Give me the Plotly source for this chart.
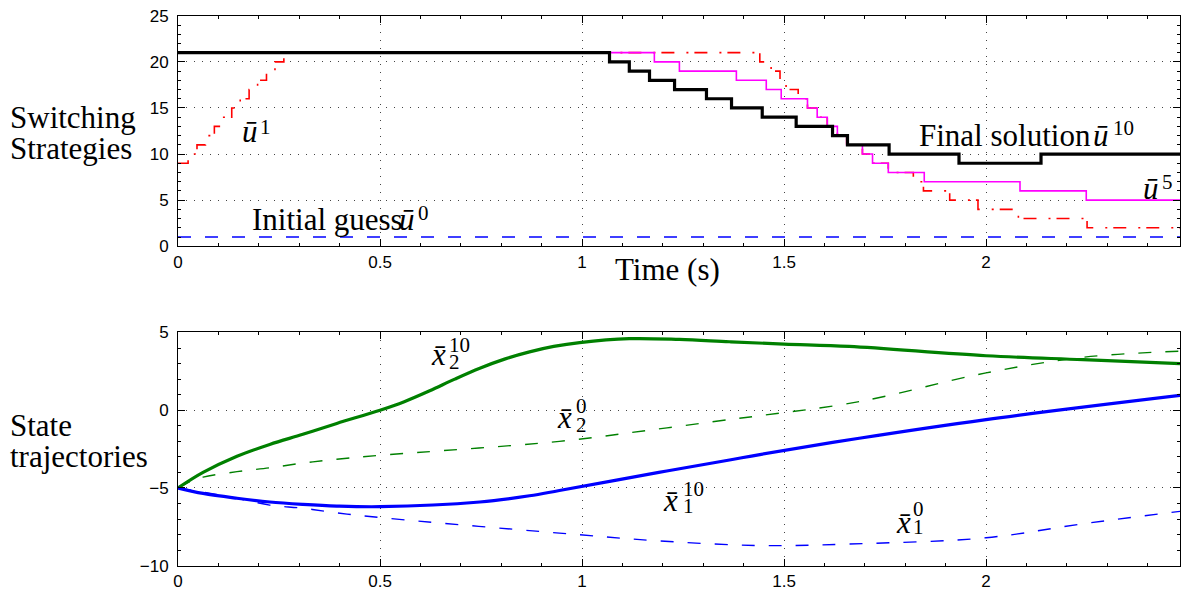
import plotly.graph_objects as go

# ---------------- data ----------------
# Top panel: switching strategies (piecewise constant, step after)
u0_t = [0, 2.48]
u0_v = [1, 1]

u1_t = [0, 0.025, 0.047, 0.068, 0.090, 0.111, 0.133, 0.154, 0.176, 0.197, 0.219, 0.240, 0.262,
        1.440, 1.468, 1.490, 1.505, 1.535, 1.558, 1.582, 1.607, 1.632, 1.655, 1.694, 1.719, 1.758,
        1.820, 1.845, 1.910, 1.980, 2.080, 2.250, 2.48]
u1_v = [9, 10, 11, 12, 13, 14, 15, 16, 17, 18, 19, 20, 21,
        20, 19, 18, 17, 16, 15, 14, 13, 12, 11, 10, 9, 8,
        7, 6, 5, 4, 3, 2, 2]

u5_t = [0, 1.179, 1.241, 1.382, 1.456, 1.493, 1.558, 1.582, 1.607, 1.632, 1.655, 1.694, 1.719,
        1.758, 1.847, 2.084, 2.248, 2.48]
u5_v = [21, 20, 19, 18, 17, 16, 15, 14, 13, 12, 11, 10, 9, 8, 7, 6, 5, 5]

u10_t = [0, 1.068, 1.117, 1.167, 1.229, 1.308, 1.370, 1.446, 1.530, 1.620, 1.657, 1.760, 1.933,
         2.136, 2.48]
u10_v = [21, 20, 19, 18, 17, 16, 15, 14, 13, 12, 11, 10, 9, 10, 10]

# Bottom panel: state trajectories
x2_10_t = [0, 0.062, 0.146, 0.227, 0.309, 0.393, 0.5, 0.56, 0.623, 0.685, 0.747, 0.81, 0.870,
           0.93, 0.994, 1.117, 1.241, 1.365, 1.5, 1.661, 2.0, 2.24, 2.48]
x2_10_v = [-5, -4.0, -2.96, -2.2, -1.55, -0.85, 0.0, 0.55, 1.25, 2.0, 2.7, 3.3, 3.75,
           4.1, 4.35, 4.6, 4.55, 4.4, 4.25, 4.1, 3.5, 3.25, 3.0]

x2_0_t = [0, 0.03, 0.062, 0.146, 0.227, 0.309, 0.393, 0.5, 0.944, 1.19, 1.365, 1.44, 1.686,
          2.0, 2.24, 2.48]
x2_0_v = [-5, -4.6, -4.3, -3.95, -3.7, -3.4, -3.15, -2.9, -2.0, -1.2, -0.6, -0.35, 0.55,
          2.4, 3.4, 3.8]

x1_10_t = [0, 0.062, 0.146, 0.227, 0.309, 0.393, 0.5, 0.747, 0.870, 0.944, 1.19, 1.365, 1.44,
           1.686, 2.0, 2.48]
x1_10_v = [-5, -5.35, -5.66, -5.9, -6.05, -6.16, -6.2, -5.9, -5.5, -5.16, -4.0, -3.2, -2.85,
           -1.8, -0.6, 0.95]

x1_0_t = [0, 0.146, 0.227, 0.309, 0.393, 0.5, 0.944, 1.19, 1.44, 1.661, 2.0, 2.24, 2.48]
x1_0_v = [-5, -5.66, -6.1, -6.3, -6.6, -6.9, -7.9, -8.4, -8.7, -8.6, -8.2, -7.3, -6.5]

xticks = [0, 0.5, 1, 1.5, 2]
xtick_labels = ["0", "0.5", "1", "1.5", "2"]
top_yticks = [0, 5, 10, 15, 20, 25]
bot_yticks = [-10, -5, 0, 5]

# ---------------- figure ----------------
fig = go.Figure()

DASH = "13px,14px"
DASHDOT = "13px,12px,2px,6px"

fig.add_trace(go.Scatter(x=u0_t, y=u0_v, mode="lines", line=dict(color="#0000ff", width=1.4, dash=DASH),
                         xaxis="x", yaxis="y"))
fig.add_trace(go.Scatter(x=u1_t, y=u1_v, mode="lines", line=dict(color="#ff0000", width=1.6, dash=DASHDOT, shape="hv"),
                         xaxis="x", yaxis="y"))
fig.add_trace(go.Scatter(x=u5_t, y=u5_v, mode="lines", line=dict(color="#ff00ff", width=1.6, shape="hv"),
                         xaxis="x", yaxis="y"))
fig.add_trace(go.Scatter(x=u10_t, y=u10_v, mode="lines", line=dict(color="#000000", width=3.2, shape="hv"),
                         xaxis="x", yaxis="y"))

fig.add_trace(go.Scatter(x=x2_0_t, y=x2_0_v, mode="lines", line=dict(color="#008000", width=1.4, dash=DASH, shape="spline"),
                         xaxis="x2", yaxis="y2"))
fig.add_trace(go.Scatter(x=x1_0_t, y=x1_0_v, mode="lines", line=dict(color="#0000ff", width=1.4, dash=DASH, shape="spline"),
                         xaxis="x2", yaxis="y2"))
fig.add_trace(go.Scatter(x=x2_10_t, y=x2_10_v, mode="lines", line=dict(color="#008000", width=3.2, shape="spline"),
                         xaxis="x2", yaxis="y2"))
fig.add_trace(go.Scatter(x=x1_10_t, y=x1_10_v, mode="lines", line=dict(color="#0000ff", width=3.2, shape="spline"),
                         xaxis="x2", yaxis="y2"))

TICKFONT = dict(family="Liberation Sans, Arial, sans-serif", size=17, color="black")
axis_common = dict(
    range=[0, 2.48], showline=True, mirror="allticks", linecolor="black", linewidth=1,
    ticks="inside", ticklen=7, tickcolor="black", tickfont=TICKFONT,
    showgrid=True, gridcolor="#444444", gridwidth=1, griddash="1px,7px",
    zeroline=False, tickvals=xticks, ticktext=xtick_labels, ticklabelstandoff=0,
    minor=dict(ticks="inside", ticklen=3, tickcolor="black", dtick=0.1, showgrid=False),
)
yaxis_common = dict(
    showline=True, mirror="allticks", linecolor="black", linewidth=1,
    ticks="inside", ticklen=7, tickcolor="black", tickfont=TICKFONT,
    showgrid=True, gridcolor="#444444", gridwidth=1, griddash="1px,7px",
    zeroline=False, ticklabelstandoff=5,
    minor=dict(ticks="inside", ticklen=3, tickcolor="black", dtick=1, showgrid=False),
)

fig.update_layout(
    width=1181, height=600,
    margin=dict(l=178, r=1, t=0, b=0),
    paper_bgcolor="white", plot_bgcolor="white",
    showlegend=False,
    xaxis=dict(domain=[0, 1], anchor="y", **axis_common),
    yaxis=dict(domain=[0.5917, 0.9883], range=[0, 25], anchor="x", tickvals=top_yticks, **yaxis_common),
    xaxis2=dict(domain=[0, 1], anchor="y2", **axis_common),
    yaxis2=dict(domain=[0.0417, 0.4433], range=[-10, 5], anchor="x2", tickvals=bot_yticks, **yaxis_common),
)

SERIF = "Liberation Serif, Times New Roman, serif"
BIG = 31
SMALL = 21


def txt(x, y, s, xref="x", yref="y", size=BIG, xanchor="left", yanchor="middle"):
    fig.add_annotation(x=x, y=y, xref=xref, yref=yref, text=s, showarrow=False,
                       xanchor=xanchor, yanchor=yanchor,
                       font=dict(family=SERIF, size=size, color="black"))


# Top panel labels
txt(0.153, 12.4, "<i>ū</i>")
txt(0.197, 12.9, "1", size=SMALL)
txt(0.178, 2.9, "Initial guess")
txt(0.543, 2.9, "<i>ū</i>")
txt(0.590, 3.6, "0", size=SMALL)
txt(1.829, 12.0, "Final solution")
txt(2.260, 12.0, "<i>ū</i>")
txt(2.308, 12.8, "10", size=SMALL)
txt(2.383, 6.3, "<i>ū</i>")
txt(2.430, 7.0, "5", size=SMALL)

# Axis-ish labels (paper coords)
txt(1.211 / 2.48, (600 - 269) / 600, "Time (s)", xref="paper", yref="paper", xanchor="center")
txt(-170 / 1002, (600 - 112) / 600, "Switching", xref="paper", yref="paper")
txt(-170 / 1002, (600 - 144) / 600, "Strategies", xref="paper", yref="paper")
txt(-170 / 1002, (600 - 430) / 600, "State", xref="paper", yref="paper")
txt(-170 / 1002, (600 - 462) / 600, "trajectories", xref="paper", yref="paper")


# Bottom panel labels: x-bar with stacked sub/superscripts
def xlabel(xc, yc, sub, sup, sx, sup_y, sub_y):
    txt(xc, yc, "<i>x̄</i>", xref="x2", yref="y2", xanchor="center")
    txt(sx, sup_y, sup, xref="x2", yref="y2", size=SMALL)
    txt(sx, sub_y, sub, xref="x2", yref="y2", size=SMALL)


xlabel(0.645, 3.6, "2", "10", 0.667, 4.21, 3.08)
xlabel(0.957, -0.45, "2", "0", 0.981, 0.25, -0.94)
xlabel(1.219, -5.8, "1", "10", 1.246, -5.09, -6.16)
xlabel(1.795, -7.2, "1", "0", 1.815, -6.35, -7.48)

fig.write_html("out.html")
